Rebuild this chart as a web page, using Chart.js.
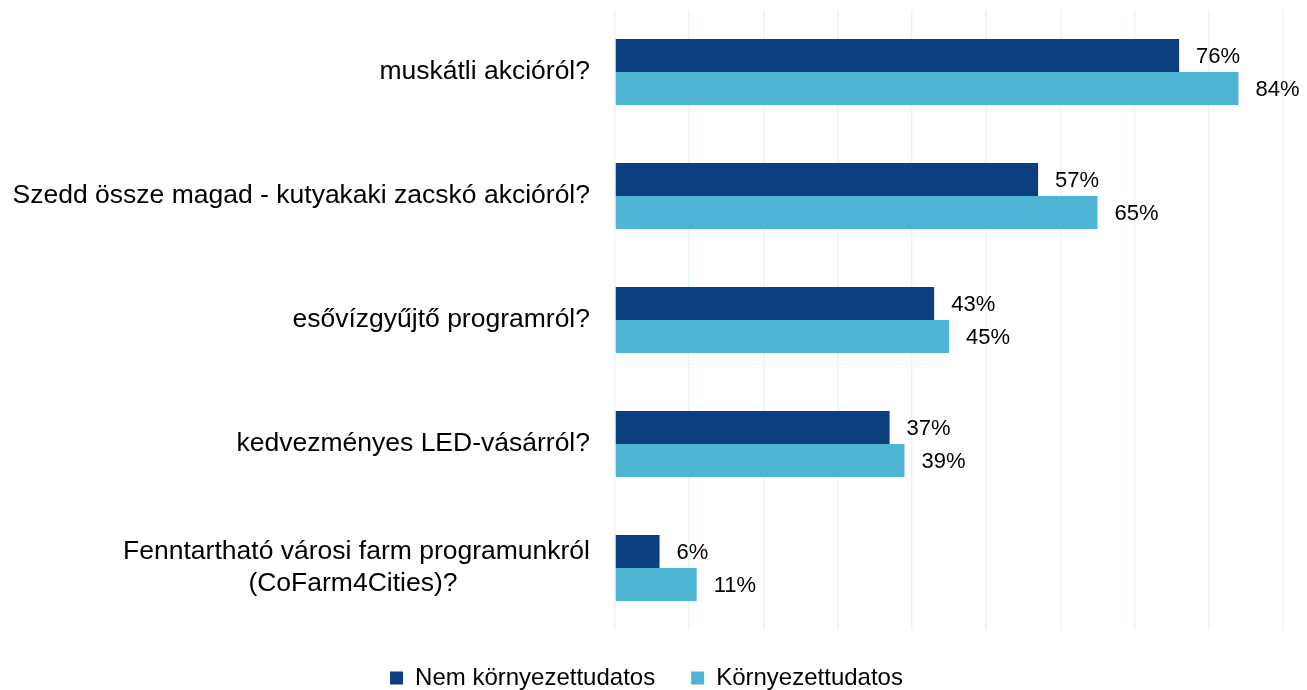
<!DOCTYPE html>
<html><head><meta charset="utf-8">
<script src="https://cdn.jsdelivr.net/npm/chart.js@4"></script>
<style>html,body{margin:0;padding:0;background:#fff}#wrap{width:1307px;height:690px}</style>
</head><body><div id="wrap"><canvas id="c" width="1307" height="690"></canvas></div>
<script>
const categories = [
  "muskátli akcióról?",
  "Szedd össze magad - kutyakaki zacskó akcióról?",
  "esővízgyűjtő programról?",
  "kedvezményes LED-vásárról?",
  ["Fenntartható városi farm programunkról", "(CoFarm4Cities)?" + "\u00A0".repeat(18)]
];
const seriesNames = ["Nem környezettudatos", "Környezettudatos"];
const nemValues = [76, 57, 43, 37, 6];
const kornyValues = [84, 65, 45, 39, 11];
const xTicks = [0, 10, 20, 30, 40, 50, 60, 70, 80, 90];

const FONT = "Arial, 'Liberation Sans', sans-serif";

const valueLabels = {
  id: 'valueLabels',
  afterDatasetsDraw(chart) {
    const ctx = chart.ctx;
    ctx.save();
    ctx.font = "22px " + FONT;
    ctx.fillStyle = "#000";
    ctx.textAlign = "left";
    ctx.textBaseline = "middle";
    chart.data.datasets.forEach((ds, i) => {
      chart.getDatasetMeta(i).data.forEach((bar, j) => {
        ctx.fillText(ds.data[j] + "%", bar.x + 17, bar.y + 1);
      });
    });
    ctx.restore();
  }
};

const legendHeight = {
  id: 'legendHeight',
  beforeInit(chart) {
    const lg = chart.legend;
    const orig = lg.fit;
    lg.fit = function () { orig.call(this); this.height = 60; };
  }
};

new Chart(document.getElementById('c'), {
  type: 'bar',
  data: {
    labels: categories,
    datasets: [
      { label: seriesNames[0], data: nemValues, backgroundColor: '#0b3f80' },
      { label: seriesNames[1], data: kornyValues, backgroundColor: '#4fb3d4' }
    ]
  },
  options: {
    indexAxis: 'y',
    responsive: false,
    animation: false,
    layout: { padding: { top: 10, left: 10, right: 24, bottom: 0 } },
    datasets: { bar: { categoryPercentage: 0.532, barPercentage: 1.0 } },
    scales: {
      x: {
        min: 0, max: 90,
        afterBuildTicks(scale) { scale.ticks = xTicks.map(v => ({ value: v })); },
        afterFit(scale) { scale.height = 0; },
        ticks: { display: false },
        border: { display: false },
        grid: { color: '#e8f6f3', lineWidth: 1.5, drawTicks: false }
      },
      y: {
        afterFit(scale) { scale.width = 605; scale.paddingTop = 0; scale.paddingBottom = 0; },
        ticks: { color: '#000', font: { size: 26.5, family: FONT }, padding: 25 },
        grid: { display: false, drawTicks: false },
        border: { display: false }
      }
    },
    plugins: {
      legend: {
        position: 'bottom',
        labels: {
          color: '#000', font: { size: 24, family: FONT },
          boxWidth: 13, boxHeight: 13, padding: 36
        }
      },
      tooltip: { enabled: false }
    }
  },
  plugins: [valueLabels, legendHeight]
});
</script></body></html>
